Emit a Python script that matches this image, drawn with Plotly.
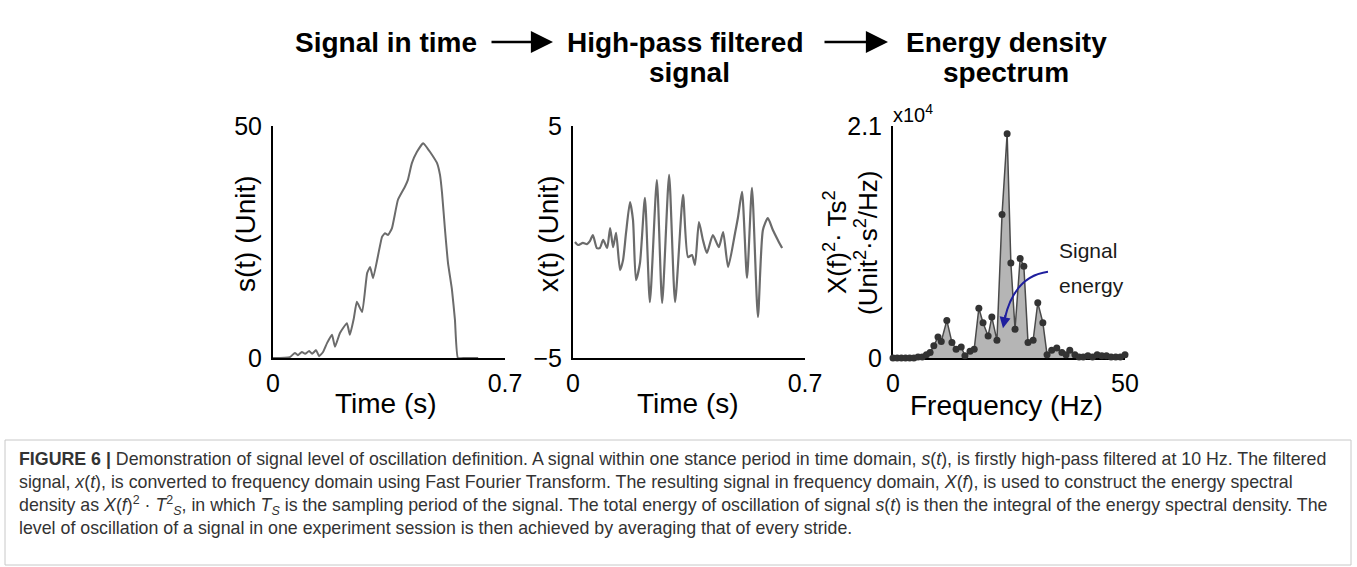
import plotly.graph_objects as go

# ---------------- data ----------------
# Panel 1: signal in time s(t)
time_s = [0.000, 0.051, 0.066, 0.075, 0.087, 0.097, 0.109, 0.118, 0.130, 0.139, 0.151,
          0.163, 0.178, 0.187, 0.202, 0.223, 0.232, 0.244, 0.253, 0.269, 0.284, 0.293,
          0.302, 0.329, 0.338, 0.347, 0.359, 0.377, 0.398, 0.407, 0.419, 0.434, 0.453,
          0.465, 0.474, 0.486, 0.495, 0.504, 0.510, 0.519, 0.528, 0.540, 0.549, 0.558,
          0.579, 0.619]
s_values = [0.0, 0.2, 1.1, 0.6, 1.3, 0.9, 1.5, 0.9, 1.7, 0.4, 1.3,
            3.2, 5.0, 2.4, 5.4, 7.5, 5.0, 8.6, 12.1, 9.9, 18.3, 19.6,
            17.2, 26.1, 26.9, 26.5, 28.0, 34.1, 36.9, 38.4, 42.0, 44.4, 46.3,
            45.3, 44.4, 43.1, 42.0, 39.4, 35.6, 27.6, 20.5, 14.7, 8.2, 0.0,
            0.0, 0.0]

# Panel 2: high-pass filtered signal x(t)
time_x = [0.006, 0.015, 0.030, 0.042, 0.051, 0.060, 0.072, 0.081, 0.091, 0.103, 0.112,
          0.121, 0.130, 0.142, 0.151, 0.160, 0.172, 0.181, 0.190, 0.202, 0.217, 0.232,
          0.253, 0.269, 0.290, 0.308, 0.332, 0.347, 0.359, 0.368, 0.380, 0.392, 0.404,
          0.422, 0.440, 0.453, 0.468, 0.489, 0.498, 0.510, 0.525, 0.540, 0.558, 0.573,
          0.588, 0.603, 0.618, 0.631]
x_values = [0.00, -0.13, -0.04, -0.09, 0.04, 0.30, -0.26, -0.26, 0.09, -0.26, 0.60,
            -0.22, 0.39, -1.21, -0.78, 0.39, 1.72, 0.95, -1.64, -0.91, 1.90, -2.59,
            2.67, -2.63, 2.89, -2.59, 2.03, -0.65, -0.56, -0.99, 0.86, 0.09, -0.47,
            0.30, -0.22, 0.43, -1.08, 0.39, 1.08, 2.16, -1.55, 2.33, -3.23, 0.52,
            1.03, 0.52, 0.09, -0.26]

# Panel 3: energy density spectrum (units of 1e4)
freq_hz = [0, 0.9, 1.8, 2.7, 3.6, 4.5, 5.4, 6.3, 7.2, 8.0, 8.8, 9.7, 10.4, 11.6, 12.7,
           13.6, 14.7, 15.5, 16.6, 17.5, 18.5, 19.4, 20.5, 21.3, 22.4, 23.5, 24.6, 25.4,
           26.3, 27.4, 28.2, 29.1, 30.2, 31.2, 32.3, 33.2, 34.2, 35.3, 36.4, 37.3, 38.1,
           39.2, 40.1, 41.0, 42.0, 43.0, 44.0, 45.0, 46.0, 47.0, 48.0, 49.0, 50.0]
energy_e4 = [0, 0, 0, 0, 0, 0, 0.01, 0.01, 0.03, 0.05, 0.11, 0.19, 0.15, 0.34, 0.14,
             0.08, 0.10, 0.02, 0.06, 0.08, 0.45, 0.32, 0.20, 0.37, 0.16, 1.30, 2.03, 0.86,
             0.26, 0.90, 0.83, 0.14, 0.16, 0.50, 0.32, 0.03, 0.07, 0.09, 0.05, 0.03, 0.07,
             0.03, 0.01, 0.01, 0.02, 0.01, 0.03, 0.02, 0.02, 0.01, 0.01, 0.01, 0.03]

stage_title_lines = [("Signal in time", 386, 42), ("High-pass filtered", 685, 42),
                     ("signal", 689, 73), ("Energy density", 1006, 42),
                     ("spectrum", 1006, 73)]
caption_lines = [
    "<b>FIGURE 6 |</b> Demonstration of signal level of oscillation definition. A signal within one stance period in time domain, <i>s</i>(<i>t</i>), is firstly high-pass filtered at 10 Hz. The filtered",
    "signal, <i>x</i>(<i>t</i>), is converted to frequency domain using Fast Fourier Transform. The resulting signal in frequency domain, <i>X</i>(<i>f</i>), is used to construct the energy spectral",
    "density as <i>X</i>(<i>f</i>)<sup>2</sup> · <i>T</i><sup>2</sup><sub><i>S</i></sub>, in which <i>T</i><sub><i>S</i></sub> is the sampling period of the signal. The total energy of oscillation of signal <i>s</i>(<i>t</i>) is then the integral of the energy spectral density. The",
    "level of oscillation of a signal in one experiment session is then achieved by averaging that of every stride.",
]

# ---------------- layout helpers ----------------
W, H = 1357, 567
FONT = "Liberation Sans, Arial, Helvetica, sans-serif"


def px(x):
    return x / W


def py(y):
    return 1 - y / H


fig = go.Figure()

fig.add_trace(go.Scatter(x=time_s, y=s_values, xaxis="x", yaxis="y", mode="lines",
                         line=dict(color="#6b6b6b", width=2, shape="spline", smoothing=0.4),
                         hoverinfo="skip", showlegend=False))
fig.add_trace(go.Scatter(x=time_x, y=x_values, xaxis="x2", yaxis="y2", mode="lines",
                         line=dict(color="#6b6b6b", width=2.2, shape="spline", smoothing=0.6),
                         hoverinfo="skip", showlegend=False))
fig.add_trace(go.Scatter(x=freq_hz, y=energy_e4, xaxis="x3", yaxis="y3", mode="lines+markers",
                         fill="tozeroy", fillcolor="#b5b5b5",
                         line=dict(color="#4a4a4a", width=1.5),
                         marker=dict(color="#333333", size=7),
                         cliponaxis=False, hoverinfo="skip", showlegend=False))

axis_common = dict(showline=True, linecolor="black", linewidth=2, showgrid=False,
                   zeroline=False, ticks="", automargin=False, fixedrange=True,
                   tickfont=dict(family=FONT, size=25, color="black"))
xa = dict(ticklabelstandoff=2, **axis_common)
ya = dict(ticklabelstandoff=4, **axis_common)

fig.update_layout(
    width=W, height=H, margin=dict(l=0, r=0, t=0, b=0),
    paper_bgcolor="white", plot_bgcolor="white", template="none",
    font=dict(family=FONT, color="black"),
    xaxis=dict(domain=[px(273), px(505)], range=[0, 0.7], tickvals=[0, 0.7],
               ticktext=["0", "0.7"], anchor="y", **xa),
    yaxis=dict(domain=[py(358), py(126)], range=[0, 50], tickvals=[0, 50],
               ticktext=["0", "50"], anchor="x", **ya),
    xaxis2=dict(domain=[px(573), px(805)], range=[0, 0.7], tickvals=[0, 0.7],
                ticktext=["0", "0.7"], anchor="y2", **xa),
    yaxis2=dict(domain=[py(358), py(126)], range=[-5, 5], tickvals=[-5, 5],
                ticktext=["\u22125", "5"], anchor="x2", **ya),
    xaxis3=dict(domain=[px(893), px(1125)], range=[0, 50], tickvals=[0, 50],
                ticktext=["0", "50"], anchor="y3", layer="below traces", **xa),
    yaxis3=dict(domain=[py(358), py(126)], range=[0, 2.1], tickvals=[0, 2.1],
                ticktext=["0", "2.1"], anchor="x3", layer="below traces", **ya),
)

ann = []
# stage titles
for txt, cx, cy in stage_title_lines:
    ann.append(dict(text="<b>" + txt + "</b>", x=px(cx), y=py(cy), xref="paper",
                    yref="paper", xanchor="center", yanchor="middle", showarrow=False,
                    font=dict(family=FONT, size=28, color="black")))
# flow arrows between titles
for tail, tip in [(490, 553), (823, 888)]:
    ann.append(dict(text="", x=px(tip), y=py(42), xref="paper", yref="paper",
                    ax=-(tip - tail), ay=0, showarrow=True, arrowhead=2, arrowsize=1.7,
                    arrowwidth=2.6, arrowcolor="black"))
# axis titles
axis_titles = [("Time (s)", 386, 403, 0), ("Time (s)", 688, 403, 0),
               ("Frequency (Hz)", 1007, 405, 0),
               ("s(t) (Unit)", 245, 234, -90), ("x(t) (Unit)", 548, 234, -90)]
for txt, cx, cy, ang in axis_titles:
    ann.append(dict(text=txt, x=px(cx), y=py(cy), xref="paper", yref="paper",
                    xanchor="center", yanchor="middle", showarrow=False, textangle=ang,
                    font=dict(family=FONT, size=28, color="black")))
for txt, cx in [("X(f)<sup>2</sup>· Ts<sup>2</sup>", 835),
                ("(Unit<sup>2</sup>·s<sup>2</sup>/Hz)", 866)]:
    ann.append(dict(text=txt, x=px(cx), y=py(242), xref="paper", yref="paper",
                    xanchor="center", yanchor="middle", showarrow=False, textangle=-90,
                    font=dict(family=FONT, size=26, color="black")))
ann.append(dict(text="x10<sup>4</sup>", x=px(891), y=py(128), xref="paper", yref="paper",
                xanchor="left", yanchor="bottom", showarrow=False,
                font=dict(family=FONT, size=20, color="black")))
# Signal energy note
for txt, cy in [("Signal", 250), ("energy", 285)]:
    ann.append(dict(text=txt, x=px(1057), y=py(cy), xref="paper", yref="paper",
                    xanchor="left", yanchor="middle", showarrow=False,
                    font=dict(family=FONT, size=21, color="#1a1a1a")))
ann.append(dict(text="", x=23.7, y=0.27, xref="x3", yref="y3", ax=24.3, ay=0.40,
                axref="x3", ayref="y3", showarrow=True, arrowhead=2, arrowsize=1.1,
                arrowwidth=2, arrowcolor="#1f1f9e"))
# caption
for i, line in enumerate(caption_lines):
    ann.append(dict(text=line, x=px(17), y=py(459 + 23 * i), xref="paper", yref="paper",
                    xanchor="left", yanchor="middle", showarrow=False, align="left",
                    font=dict(family=FONT, size=17.8, color="#333333")))
fig.update_layout(annotations=ann)

fig.update_layout(shapes=[
    dict(type="path", xref="x3", yref="y3",
         path="M 33.4,0.78 Q 26.2,0.74 24.1,0.36",
         line=dict(color="#1f1f9e", width=2)),
    dict(type="rect", xref="paper", yref="paper", x0=px(5), x1=px(1351),
         y0=py(565), y1=py(440), line=dict(color="#c8c8c8", width=1)),
])

fig.write_html("out.html")
